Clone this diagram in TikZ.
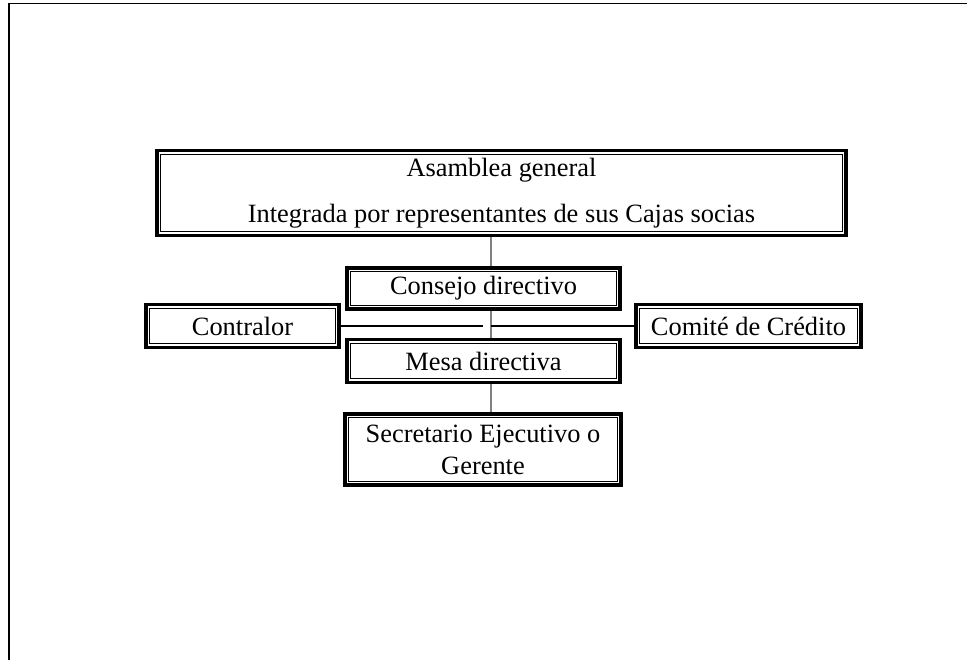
\documentclass[tikz,border=0pt]{standalone}
\usepackage{fontspec}
\setmainfont{Liberation Serif}
\newfontfamily\boxfont{Liberation Serif}
\usepackage{tikz}

\tikzset{
  orgbox/.style={draw, line width=2.6pt, fill=white, inner sep=0pt, align=center,
    font=\boxfont\fontsize{19.8}{24}\selectfont,
    path picture={\draw[line width=0.9pt]
      ([shift={(2.85pt,2.85pt)}]path picture bounding box.south west) rectangle
      ([shift={(-2.85pt,-2.85pt)}]path picture bounding box.north east);}},
  spine/.style={gray, line width=0.9pt},
  link/.style={black, line width=0.8pt}
}

\begin{document}
\begin{tikzpicture}[x=0.75pt,y=-0.75pt]
    \useasboundingbox (0,0) rectangle (967,660);
    % page frame
    \draw[line width=1.5pt] (9,660) -- (9,3.5);
    \draw[line width=1pt] (8.25,3.5) -- (967,3.5);
    % boxes
    \node[orgbox, minimum width=517pt, minimum height=64pt,
      font=\boxfont\fontsize{19.8}{34.5}\selectfont] (asamblea) at (501.5,193)
      {Asamblea general\\Integrada por representantes de sus Cajas socias};
    \node[orgbox, minimum width=205pt, minimum height=31pt] (consejo) at (483.5,288.5) {Consejo directivo};
    \node[orgbox, minimum width=145pt, minimum height=32pt] (contralor) at (242.5,326) {Contralor};
    \node[orgbox, minimum width=169pt, minimum height=32pt] (comite) at (748.5,326) {Comité de Crédito};
    \node[orgbox, minimum width=205pt, minimum height=32pt] (mesa) at (483.5,361) {Mesa directiva};
    \node[orgbox, minimum width=207pt, minimum height=53.5pt] (secretario) at (483,449.5)
      {Secretario Ejecutivo o\\Gerente};
    % vertical line
    \coordinate (axis) at (491,0);
    \draw[spine] (asamblea.south -| axis) -- (consejo.north -| axis);
    \draw[spine] (consejo.south -| axis) -- (mesa.north -| axis);
    \draw[spine] (mesa.south -| axis) -- (secretario.north -| axis);
    % side links
    \coordinate (gap) at (483,326);
    \coordinate (cross) at (491,326);
    \draw[link] (contralor.east) -- (gap);
    \draw[link] (cross) -- (comite.west);
\end{tikzpicture}
\end{document}
